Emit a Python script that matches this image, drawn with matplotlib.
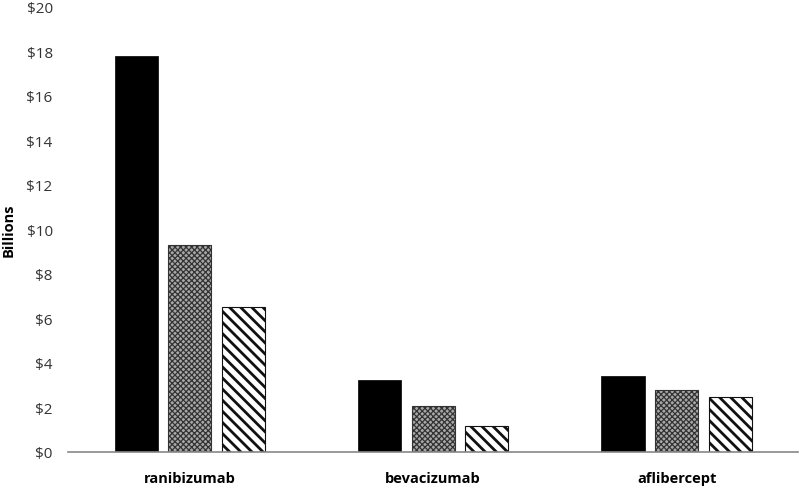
import numpy as np
import matplotlib.pyplot as plt

# Data (billions of dollars)
drugs = ['ranibizumab', 'bevacizumab', 'aflibercept']
series_a = [17.8, 3.25, 3.4]
series_b = [9.3, 2.05, 2.8]
series_c = [6.5, 1.15, 2.45]
yticks = np.arange(0, 21, 2)

plt.rcParams['font.family'] = ['Open Sans', 'DejaVu Sans']

fig = plt.figure(figsize=(8, 4.89), dpi=100)
ax = fig.add_axes([0.085, 0.074, 0.913, 0.91])

x = np.arange(len(drugs))
w = 0.178
step = 0.22

ax.bar(x - step, series_a, w, color='black', edgecolor='black', linewidth=0.5)
with plt.rc_context({'hatch.linewidth': 0.9}):
    ax.bar(x, series_b, w, color='#a8a8a8', edgecolor='#333333', linewidth=0.8,
           hatch='xxxxxx')
with plt.rc_context({'hatch.linewidth': 2.0}):
    ax.bar(x + step, series_c, w, color='white', edgecolor='#111111', linewidth=0.8,
           hatch='\\\\\\')

ax.set_xlim(-0.5, 2.5)
ax.set_ylim(0, 20)
ax.set_yticks(yticks)
ax.set_yticklabels([f'${v}' for v in yticks], fontsize=11, color='#333333')
ax.set_xticks(x)
ax.set_xticklabels(drugs, fontsize=10.5, fontweight='bold')
ax.tick_params(axis='x', length=0, pad=14)
ax.tick_params(axis='y', length=0, pad=11)

for s in ['top', 'right', 'left']:
    ax.spines[s].set_visible(False)
ax.spines['bottom'].set_color('#888888')
ax.spines['bottom'].set_linewidth(1.2)

ax.set_ylabel('Billions', fontsize=10.5, fontweight='bold')
ax.yaxis.set_label_coords(-0.072, 0.5)

plt.savefig('out.png')
